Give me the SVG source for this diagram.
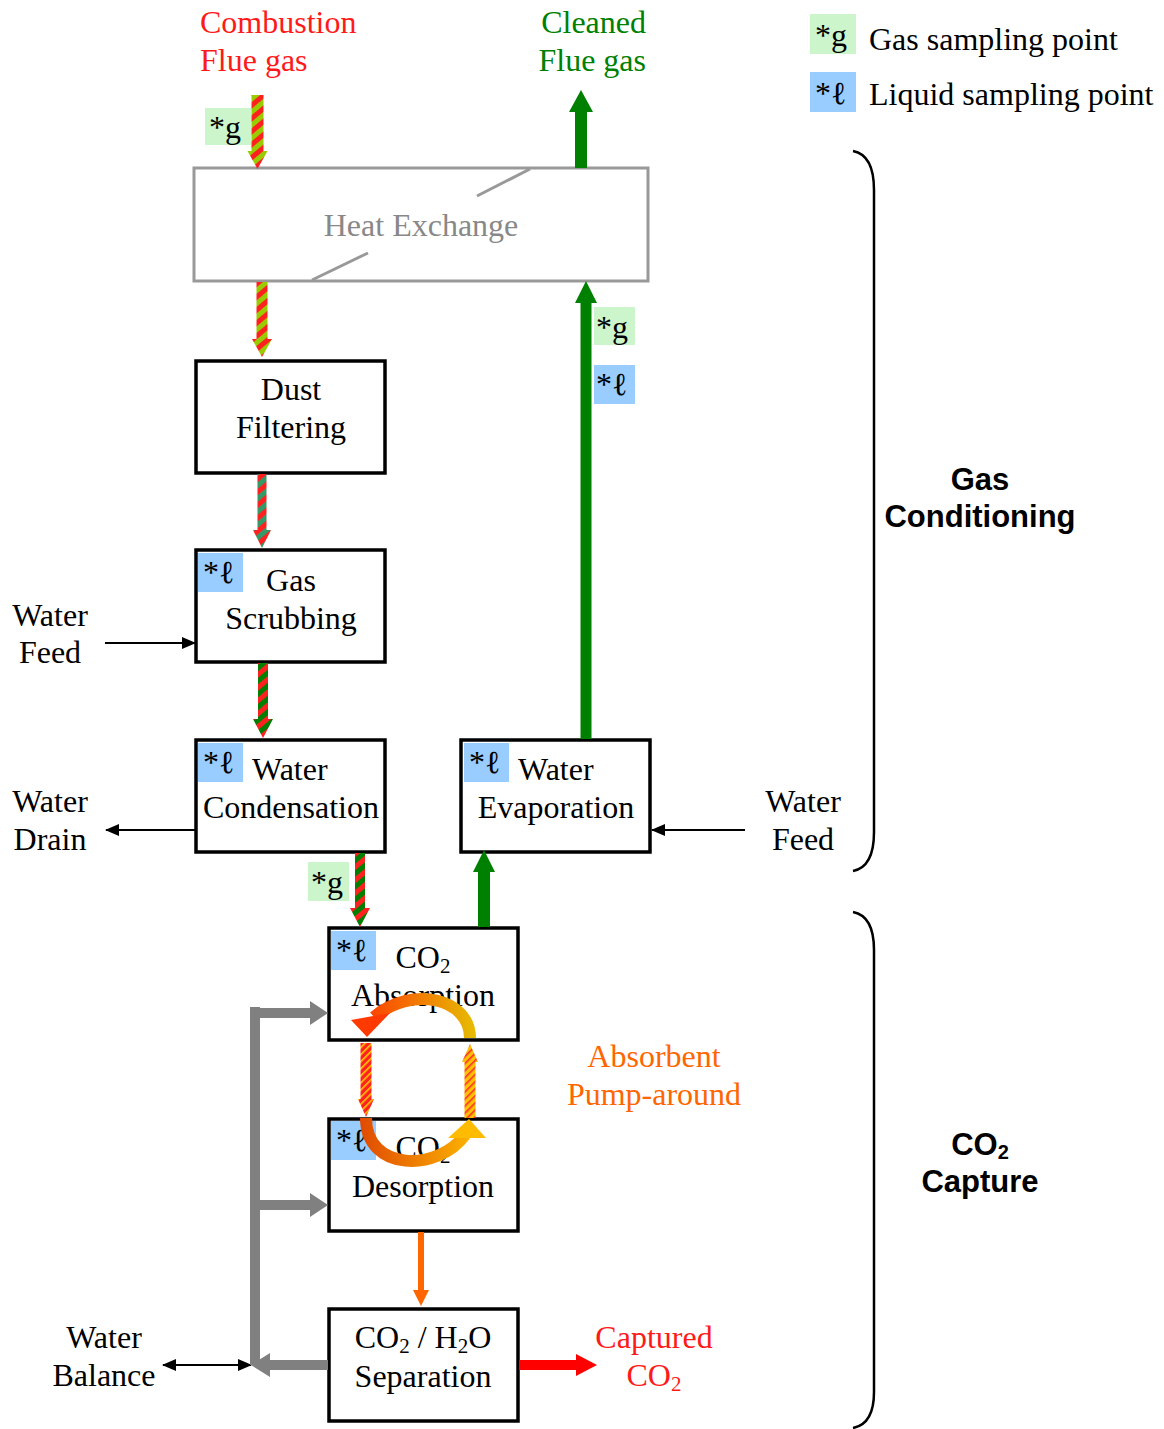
<svg xmlns="http://www.w3.org/2000/svg" width="1164" height="1429" viewBox="0 0 1164 1429">
<style>
.t{font-family:"Liberation Serif","Times New Roman",serif;font-size:32px;fill:#000}
.c{text-anchor:middle}
.red{fill:#ff1a1a}
.grn{fill:#008000}
.org{fill:#ff6600}
.hx{fill:#888}
.bs{font-family:"Liberation Sans",Arial,sans-serif;font-weight:bold;font-size:31px;text-anchor:middle;fill:#000}
.box{fill:#fff;stroke:#000;stroke-width:3.5}
.lg{fill:#ccf5cc}
.lb{fill:#99ccff}
.thin{stroke:#000;stroke-width:2;fill:none}
.gray{fill:#808080}
</style>
<defs>
<pattern id="pRY" width="10" height="10" patternUnits="userSpaceOnUse" patternTransform="rotate(-40)"><rect width="10" height="10" fill="#99cc00"/><rect width="10" height="5" fill="#ff2020"/></pattern>
<pattern id="pRS" width="10" height="10" patternUnits="userSpaceOnUse" patternTransform="rotate(-40)"><rect width="10" height="10" fill="#339966"/><rect width="10" height="5" fill="#ff2020"/></pattern>
<pattern id="pRG" width="10" height="10" patternUnits="userSpaceOnUse" patternTransform="rotate(-40)"><rect width="10" height="10" fill="#008000"/><rect width="10" height="5" fill="#ff2020"/></pattern>
<pattern id="pRy" width="5" height="5" patternUnits="userSpaceOnUse" patternTransform="rotate(-45)"><rect width="5" height="5" fill="#ff2020"/><rect width="5" height="1.6" fill="#ffcc00"/></pattern>
<pattern id="pYr" width="5" height="5" patternUnits="userSpaceOnUse" patternTransform="rotate(-45)"><rect width="5" height="5" fill="#ffc000"/><rect width="5" height="1.6" fill="#ff3030"/></pattern>
<linearGradient id="gUp" gradientUnits="userSpaceOnUse" x1="475" y1="1030" x2="355" y2="1030"><stop offset="0" stop-color="#e6bc00"/><stop offset="1" stop-color="#ff3300"/></linearGradient>
<linearGradient id="gLo" gradientUnits="userSpaceOnUse" x1="360" y1="1130" x2="485" y2="1130"><stop offset="0" stop-color="#e04a00"/><stop offset="1" stop-color="#ffc000"/></linearGradient>
<marker id="ah" markerWidth="14" markerHeight="12" refX="13" refY="6" orient="auto" markerUnits="userSpaceOnUse"><path d="M0,0 L14,6 L0,12 z" fill="#000"/></marker>
<marker id="ahs" markerWidth="14" markerHeight="12" refX="1" refY="6" orient="auto" markerUnits="userSpaceOnUse"><path d="M14,0 L0,6 L14,12 z" fill="#000"/></marker>
</defs>

<!-- top labels -->
<text class="t red" x="200" y="33">Combustion</text>
<text class="t red" x="200" y="71">Flue gas</text>
<text class="t grn" x="646" y="33" text-anchor="end">Cleaned</text>
<text class="t grn" x="646" y="71" text-anchor="end">Flue gas</text>

<!-- legend -->
<g id="legend">
<rect class="lg" x="810" y="14" width="46" height="40"/>
<text class="t" x="815" y="46">*g</text>
<text class="t" x="869" y="50">Gas sampling point</text>
<rect class="lb" x="810" y="72" width="46" height="40"/>
<text class="t" x="815" y="104">*ℓ</text>
<text class="t" x="869" y="105">Liquid sampling point</text>
</g>

<!-- brackets -->
<g id="brackets" fill="none" stroke="#000" stroke-width="2.5">
<path d="M853 151 Q874 155 874 190 V832 Q874 867 853 871"/>
<path d="M853 912 Q874 916 874 950 V1392 Q874 1424 853 1428"/>
</g>
<g id="label-gas-conditioning">
<text class="bs" x="980" y="490">Gas</text>
<text class="bs" x="980" y="527">Conditioning</text>
</g>
<g id="label-co2-capture">
<text class="bs" x="980" y="1155">CO<tspan font-size="20" dy="4">2</tspan></text>
<text class="bs" x="980" y="1192">Capture</text>
</g>

<!-- nodes -->
<g id="heat-exchange">
<rect x="194" y="168" width="454" height="113" fill="#fff" stroke="#999" stroke-width="3"/>
<line x1="477" y1="196" x2="530" y2="169" stroke="#999" stroke-width="3"/>
<line x1="312" y1="280" x2="368" y2="253" stroke="#999" stroke-width="3"/>
<text class="t c hx" x="421" y="236">Heat Exchange</text>
</g>
<g id="dust-filtering">
<rect class="box" x="196" y="361" width="189" height="112"/>
<text class="t c" x="291" y="400">Dust</text>
<text class="t c" x="291" y="438">Filtering</text>
</g>
<g id="gas-scrubbing">
<rect class="box" x="196" y="550" width="189" height="112"/>
<rect class="lb" x="198" y="553" width="45" height="39"/>
<text class="t" x="203" y="583">*ℓ</text>
<text class="t c" x="291" y="591">Gas</text>
<text class="t c" x="291" y="629">Scrubbing</text>
</g>
<g id="water-condensation">
<rect class="box" x="196" y="740" width="189" height="112"/>
<rect class="lb" x="198" y="743" width="45" height="39"/>
<text class="t" x="203" y="773">*ℓ</text>
<text class="t" x="252" y="780">Water</text>
<text class="t c" x="291" y="818">Condensation</text>
</g>
<g id="water-evaporation">
<rect class="box" x="461" y="740" width="189" height="112"/>
<rect class="lb" x="464" y="743" width="45" height="39"/>
<text class="t" x="469" y="773">*ℓ</text>
<text class="t" x="518" y="780">Water</text>
<text class="t c" x="556" y="818">Evaporation</text>
</g>
<g id="co2-absorption">
<rect class="box" x="329" y="928" width="189" height="112"/>
<rect class="lb" x="331" y="931" width="45" height="39"/>
<text class="t" x="336" y="961">*ℓ</text>
<text class="t c" x="423" y="968">CO<tspan font-size="21" dy="5">2</tspan></text>
<text class="t c" x="423" y="1006">Absorption</text>
</g>
<g id="co2-desorption">
<rect class="box" x="329" y="1119" width="189" height="112"/>
<rect class="lb" x="331" y="1121" width="45" height="39"/>
<text class="t" x="336" y="1151">*ℓ</text>
<text class="t c" x="423" y="1158">CO<tspan font-size="21" dy="5">2</tspan></text>
<text class="t c" x="423" y="1197">Desorption</text>
</g>
<g id="separation">
<rect class="box" x="329" y="1309" width="189" height="112"/>
<text class="t c" x="423" y="1348">CO<tspan font-size="21" dy="5">2</tspan><tspan dy="-5"> / H</tspan><tspan font-size="21" dy="5">2</tspan><tspan dy="-5">O</tspan></text>
<text class="t c" x="423" y="1387">Separation</text>
</g>

<!-- side labels -->
<text class="t c" x="50" y="626">Water</text>
<text class="t c" x="50" y="663">Feed</text>
<text class="t c" x="50" y="812">Water</text>
<text class="t c" x="50" y="850">Drain</text>
<text class="t c" x="803" y="812">Water</text>
<text class="t c" x="803" y="850">Feed</text>
<text class="t c" x="104" y="1348">Water</text>
<text class="t c" x="104" y="1386">Balance</text>
<text class="t c red" x="654" y="1348">Captured</text>
<text class="t c red" x="654" y="1386">CO<tspan font-size="21" dy="5">2</tspan></text>
<text class="t c org" x="654" y="1067">Absorbent</text>
<text class="t c org" x="654" y="1105">Pump-around</text>

<!-- connectors -->
<g id="connectors">
<path d="M251.5 95 H263.5 V151 H267.5 L257.5 169 L247.5 151 H251.5 Z" fill="url(#pRY)"/>
<path d="M256.5 282 H267.5 V339 H272 L262 357 L252 339 H256.5 Z" fill="url(#pRY)"/>
<path d="M257.5 474 H266.5 V530 H271 L262 548 L253 530 H257.5 Z" fill="url(#pRS)"/>
<path d="M258 663 H268 V719 H273 L263 738 L253 719 H258 Z" fill="url(#pRG)"/>
<path d="M355 853 H365 V908 H370 L360 927 L350 908 H355 Z" fill="url(#pRG)"/>
<!-- green arrows -->
<path d="M575 168 V112 H569 L581 90 L593 112 H587 V168 Z" class="grn"/>
<path d="M580.5 739 V303 H575 L586 281 L597 303 H591.5 V739 Z" class="grn"/>
<path d="M478 927 V872 H473 L484 850 L495 872 H490 V927 Z" class="grn"/>
<!-- sampling labels on arrows -->
<rect class="lg" x="205" y="108" width="46" height="37"/>
<text class="t" x="209" y="138">*g</text>
<rect class="lg" x="594" y="307" width="41" height="38"/>
<text class="t" x="596" y="338">*g</text>
<rect class="lb" x="594" y="365" width="41" height="39"/>
<text class="t" x="596" y="395">*ℓ</text>
<rect class="lg" x="308" y="862" width="41" height="39"/>
<text class="t" x="311" y="893">*g</text>
<!-- thin black arrows -->
<line class="thin" x1="105" y1="643" x2="195" y2="643" marker-end="url(#ah)"/>
<line class="thin" x1="195" y1="830" x2="106" y2="830" marker-end="url(#ah)"/>
<line class="thin" x1="745" y1="830" x2="652" y2="830" marker-end="url(#ah)"/>
<line class="thin" x1="163" y1="1365" x2="251" y2="1365" marker-start="url(#ahs)" marker-end="url(#ah)"/>
<!-- gray arrows -->
<rect class="gray" x="250" y="1007" width="10" height="358"/>
<path class="gray" d="M250 1008 H310 V1001 L328 1013 L310 1025 V1018 H250 Z"/>
<path class="gray" d="M255 1200 H310 V1193 L328 1205 L310 1217 V1210 H255 Z"/>
<path class="gray" d="M328 1360 H270 V1353 L251 1365 L270 1377 V1370 H328 Z"/>
<!-- orange and red -->
<path d="M418 1232 H424 V1290 H429 L421 1306 L413 1290 H418 Z" class="org"/>
<path d="M519 1360 H576 V1354 L597 1365 L576 1376 V1370 H519 Z" fill="#ff0000"/>
<!-- pump-around -->
<path d="M360.5 1043 H371.5 V1099 H374 L366 1117 L358 1099 H360.5 Z" fill="url(#pRy)"/>
<path d="M464.5 1118 V1062 H462 L470 1044 L478 1062 H475.5 V1118 Z" fill="url(#pYr)"/>
<path d="M470 1038 C470 998 412 985 374 1017" fill="none" stroke="url(#gUp)" stroke-width="12"/>
<polygon points="351,1020 390,1013 367,1037" fill="#ff3a00"/>
<path d="M366 1118 C366 1172 438 1172 465 1135" fill="none" stroke="url(#gLo)" stroke-width="12"/>
<polygon points="448,1138 469,1119 486,1138" fill="#ffbb00"/>
</g>
</svg>
